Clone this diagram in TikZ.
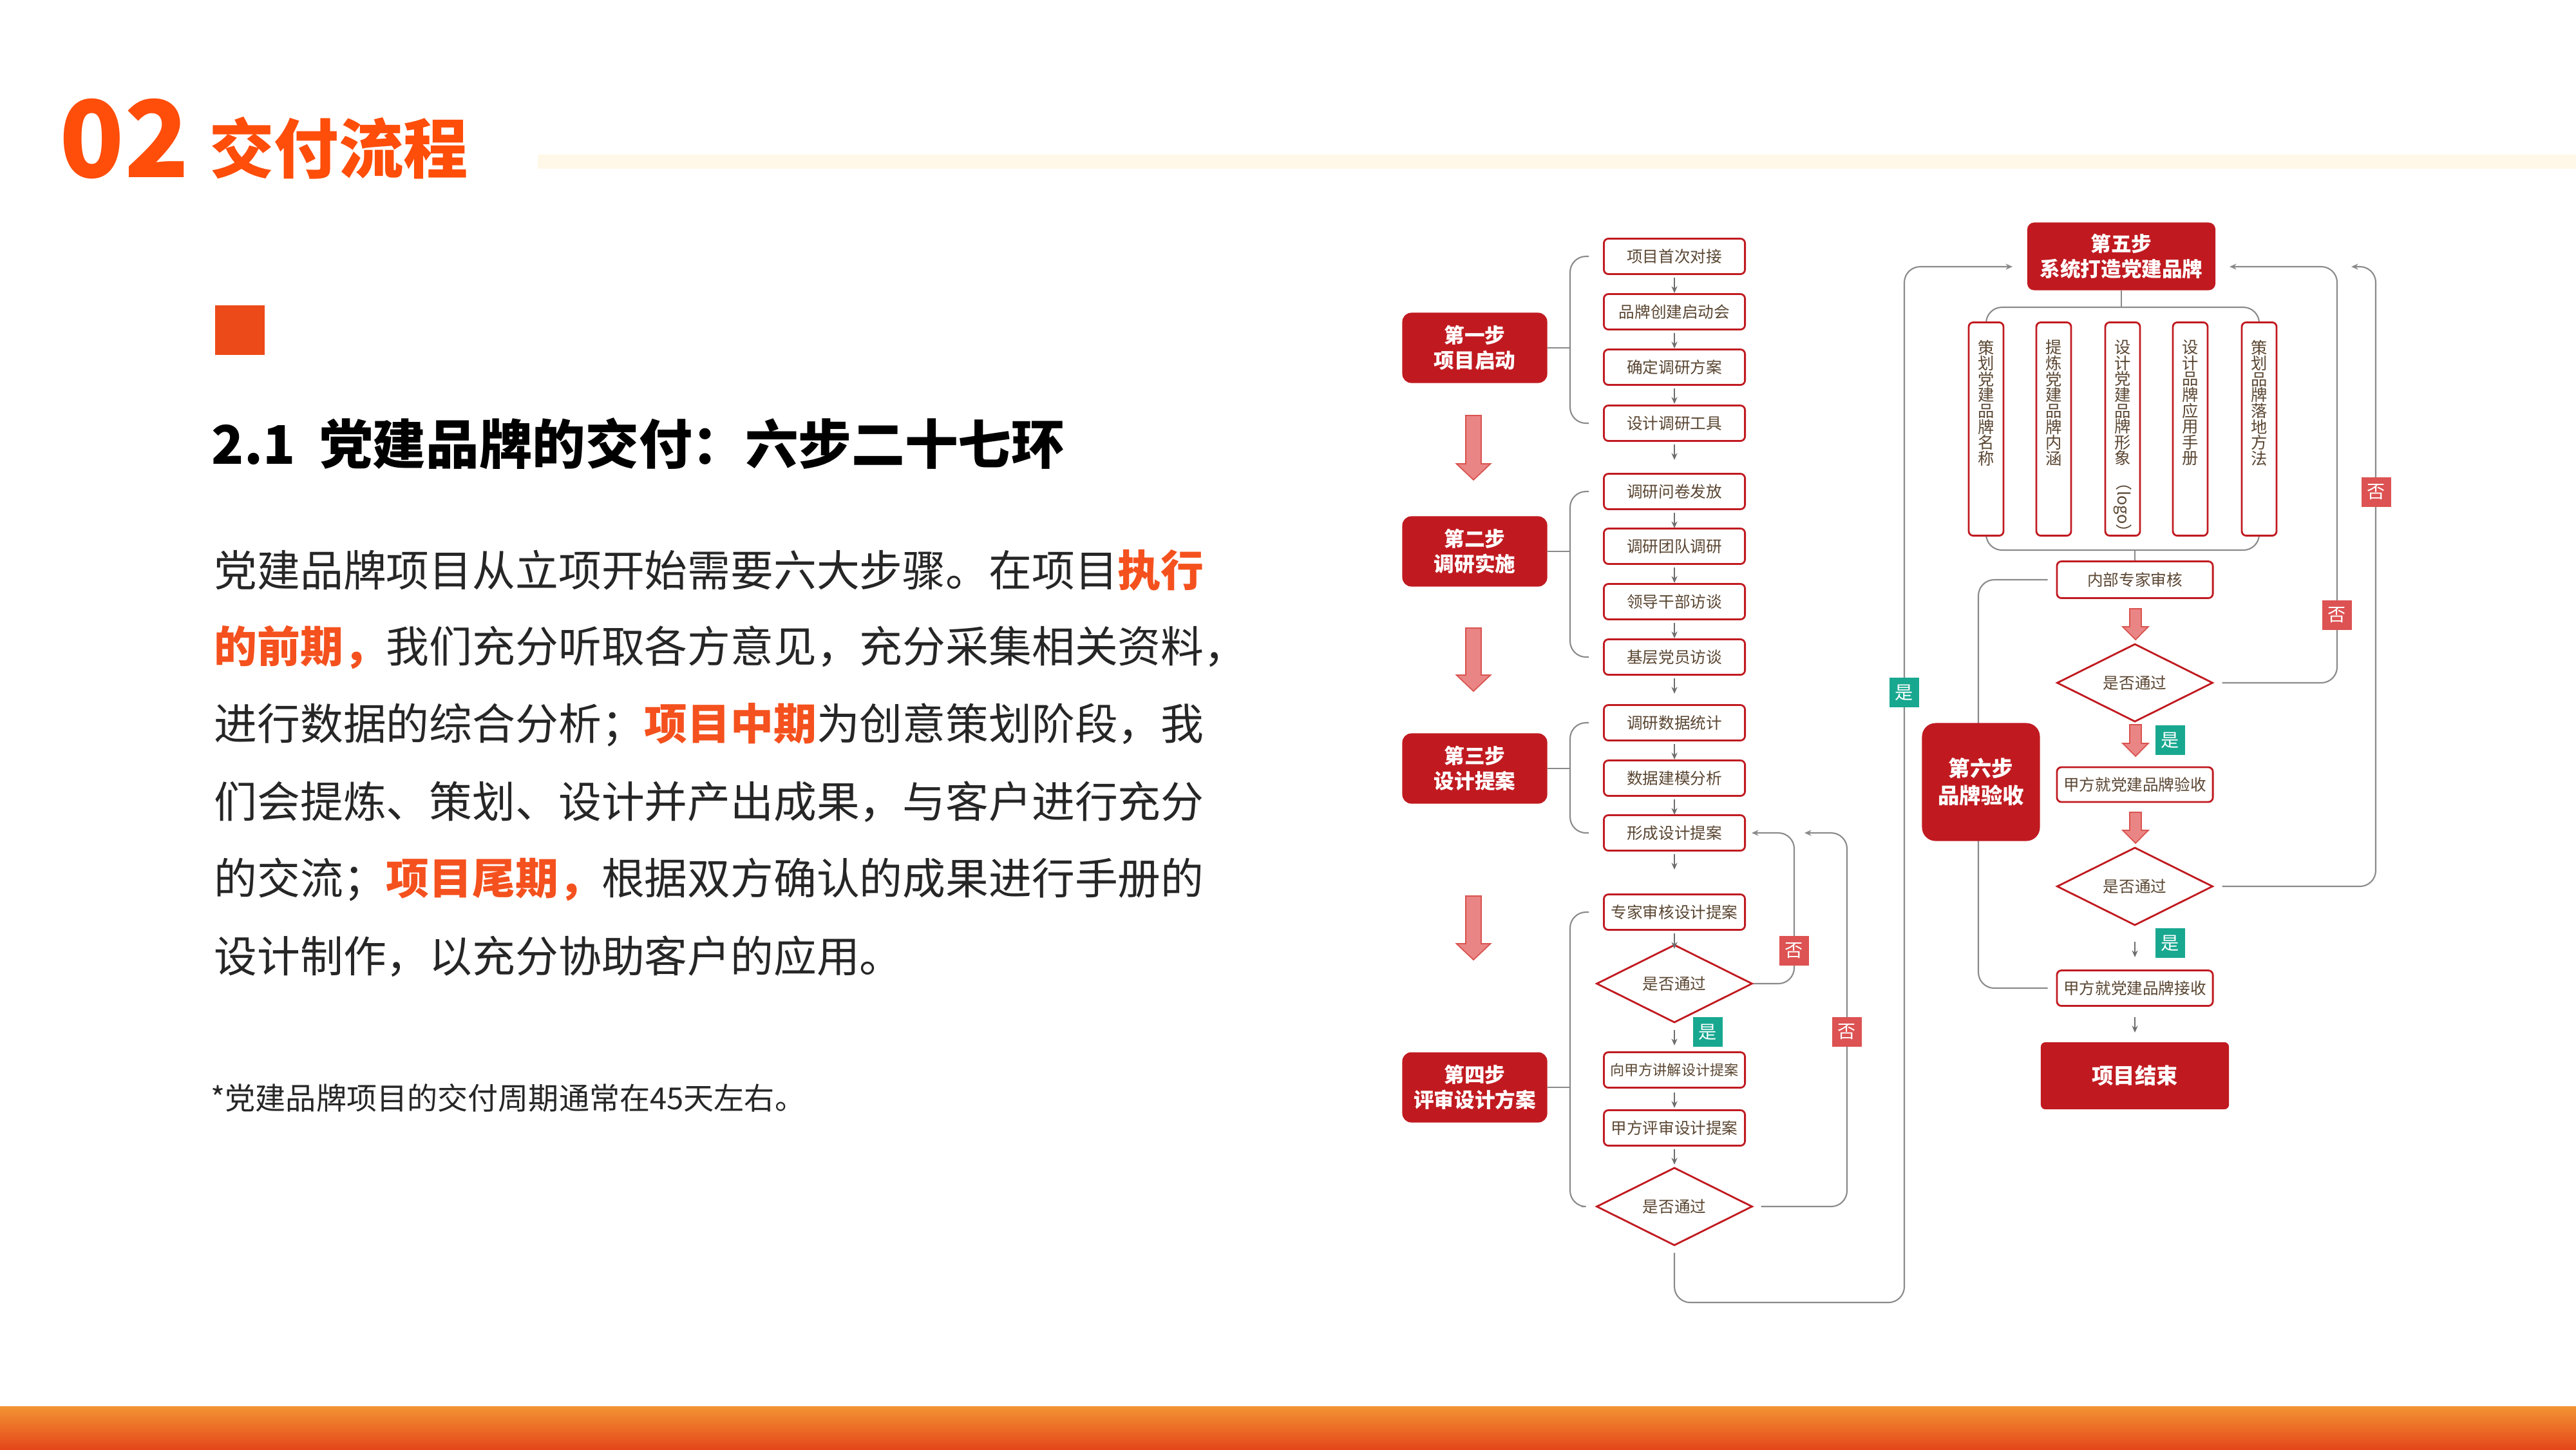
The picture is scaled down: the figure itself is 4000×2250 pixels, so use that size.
\documentclass[tikz,border=0pt]{standalone}
\usepackage{fontspec}
\setmainfont{Noto Sans CJK SC}
\usetikzlibrary{shapes.geometric,arrows.meta,backgrounds}
\definecolor{boxred}{HTML}{C01A20}
\definecolor{txtb}{HTML}{5A4632}
\definecolor{hl}{HTML}{F4511E}
\definecolor{ttl}{HTML}{FF4D0A}
\definecolor{lblred}{HTML}{DD5252}
\definecolor{teal}{HTML}{18A890}
\definecolor{fatf}{HTML}{EA8585}
\definecolor{fatd}{HTML}{D9534F}
\definecolor{gline}{HTML}{8A8A8A}
\definecolor{cream}{HTML}{FFF8E8}
\definecolor{sq}{HTML}{EC4A18}
\definecolor{bartop}{HTML}{F39433}
\definecolor{barbot}{HTML}{E4461A}
\newcommand\fatarr[5]{\filldraw[fill=fatf,draw=fatd,line width=0.5pt] ({#1-#4},#2) -- ({#1+#4},#2) -- ({#1+#4},{#3-#5}) -- ({#1+2.2*#4},{#3-#5}) -- (#1,#3) -- ({#1-2.2*#4},{#3-#5}) -- ({#1-#4},{#3-#5}) -- cycle;}
\tikzset{
 sbox/.style={draw=boxred,line width=0.8pt,rounded corners=2pt,fill=white,text=txtb,minimum width=2.19cm,minimum height=0.55cm,inner sep=0pt,font=\fontsize{7}{8}\selectfont},
 stepbox/.style={fill=boxred,rounded corners=4pt,text=white,minimum width=2.25cm,minimum height=1.09cm,align=center,font=\bfseries\fontsize{9}{11}\selectfont},
 dia/.style={diamond,draw=boxred,line width=0.8pt,fill=white,text=txtb,minimum width=2.42cm,minimum height=1.02cm,inner sep=0pt,font=\fontsize{7}{8}\selectfont},
 vbox/.style={draw=boxred,line width=0.8pt,rounded corners=2pt,fill=white,minimum width=0.54cm,minimum height=3.31cm,inner sep=0pt},
 vtext/.style={text=txtb,align=center,inner sep=0pt,font=\fontsize{7.2}{7.0}\selectfont},
 nolbl/.style={fill=lblred,text=white,minimum size=0.46cm,inner sep=0pt,font=\fontsize{8}{9}\selectfont},
 yeslbl/.style={fill=teal,text=white,minimum size=0.46cm,inner sep=0pt,font=\fontsize{8}{9}\selectfont},
 gl/.style={draw=gline,line width=0.6pt,rounded corners=7pt},
 garr/.style={gl,-{Stealth[length=3pt,width=2.6pt]}},
 sarr/.style={draw=gline!80!black,line width=0.5pt,-{Stealth[length=3pt,width=2.6pt]}},
 body/.style={anchor=west,inner sep=0pt,text=black!85,font=\fontsize{19}{20}\selectfont}
}
\begin{document}
\begin{tikzpicture}[x=0.01cm,y=-0.01cm]
\useasboundingbox (0,0) rectangle (4000,2250);
\fill[cream] (835,240) rectangle (4000,262);
\node[anchor=base west,inner sep=0pt,text=ttl,font=\bfseries\fontsize{47}{50}\selectfont] (t02) at (92,275) {02};
\node[anchor=base west,inner sep=0pt,text=ttl,font=\bfseries\fontsize{28.5}{32}\selectfont] (ttitle) at (325,268) {交付流程};
\fill[sq] (334,474) rectangle (411,551);
\node[anchor=west,inner sep=0pt,font=\bfseries\fontsize{23.5}{25}\selectfont] (head) at (328,689) {2.1\ \ 党建品牌的交付：六步二十七环};
\node[body] (l1) at (332,885) {党建品牌项目从立项开始需要六大步骤。在项目\textcolor{hl}{\bfseries 执行}};
\node[body] (l2) at (332,1005) {\textcolor{hl}{\bfseries 的前期，}我们充分听取各方意见，充分采集相关资料，};
\node[body] (l3) at (332,1125) {进行数据的综合分析；\textcolor{hl}{\bfseries 项目中期}为创意策划阶段，我};
\node[body] (l4) at (332,1245) {们会提炼、策划、设计并产出成果，与客户进行充分};
\node[body] (l5) at (332,1365) {的交流；\textcolor{hl}{\bfseries 项目尾期，}根据双方确认的成果进行手册的};
\node[body] (l6) at (332,1485) {设计制作，以充分协助客户的应用。};
\node[body,font=\fontsize{13.4}{14}\selectfont] (fn) at (327,1704) {*党建品牌项目的交付周期通常在45天左右。};
\shade[top color=bartop,bottom color=barbot] (0,2183) rectangle (4000,2250);

\node[stepbox] (s1) at (2290,540) {第一步\\项目启动};
\node[stepbox] (s2) at (2290,856) {第二步\\调研实施};
\node[stepbox] (s3) at (2290,1193) {第三步\\设计提案};
\node[stepbox] (s4) at (2290,1688) {第四步\\评审设计方案};
\fatarr{2288}{645}{745}{12}{25}
\fatarr{2288}{975}{1073}{12}{25}
\fatarr{2288}{1391}{1490}{12}{25}

\node[sbox] (b1) at (2600,398) {项目首次对接};
\node[sbox] (b2) at (2600,484) {品牌创建启动会};
\node[sbox] (b3) at (2600,570) {确定调研方案};
\node[sbox] (b4) at (2600,657) {设计调研工具};
\node[sbox] (b5) at (2600,763) {调研问卷发放};
\node[sbox] (b6) at (2600,848) {调研团队调研};
\node[sbox] (b7) at (2600,934) {领导干部访谈};
\node[sbox] (b8) at (2600,1020) {基层党员访谈};
\node[sbox] (b9) at (2600,1122) {调研数据统计};
\node[sbox] (b10) at (2600,1208) {数据建模分析};
\node[sbox] (b11) at (2600,1293) {形成设计提案};
\node[sbox] (b12) at (2600,1416) {专家审核设计提案};
\node[dia] (d1) at (2600,1527) {是否通过};
\node[sbox,font=\fontsize{6.3}{7}\selectfont] (b13) at (2600,1661) {向甲方讲解设计提案};
\node[sbox] (b14) at (2600,1751) {甲方评审设计提案};
\node[dia] (d2) at (2600,1873) {是否通过};
\foreach \n in {1,...,11,12,14} {\draw[sarr] ([yshift=-0.04cm]b\n.south) -- ++(0,24);}
\draw[sarr] ([yshift=-0.06cm]b13.south) -- ++(0,24);
\draw[sarr] ([yshift=-0.1cm]d1.south) -- ++(0,24);
\node[yeslbl] (y1) at (2652,1602) {是};

\node[stepbox,minimum width=2.92cm,minimum height=1.05cm,rounded corners=3pt] (s5) at (3294,398) {第五步\\系统打造党建品牌};
\node[vbox] (v1) at (3084,666) {};
\node[vbox] (v2) at (3189,666) {};
\node[vbox] (v3) at (3296,666) {};
\node[vbox] (v4) at (3401,666) {};
\node[vbox] (v5) at (3508,666) {};
\node[vtext,anchor=north] (vt1) at ([yshift=-0.28cm]v1.north) {策\\划\\党\\建\\品\\牌\\名\\称};
\node[vtext,anchor=north] (vt2) at ([yshift=-0.28cm]v2.north) {提\\炼\\党\\建\\品\\牌\\内\\涵};
\node[vtext,anchor=north] (vt3) at ([yshift=-0.28cm]v3.north) {设\\计\\党\\建\\品\\牌\\形\\象\\[3pt]\rotatebox[origin=c]{-90}{（logo）}};
\node[vtext,anchor=north] (vt4) at ([yshift=-0.28cm]v4.north) {设\\计\\品\\牌\\应\\用\\手\\册};
\node[vtext,anchor=north] (vt5) at ([yshift=-0.28cm]v5.north) {策\\划\\品\\牌\\落\\地\\方\\法};
\node[sbox,minimum width=2.42cm,minimum height=0.57cm] (r1) at (3315,900) {内部专家审核};
\node[dia,minimum height=1.02cm] (d3) at (3315,1060) {是否通过};
\node[sbox,minimum width=2.42cm,minimum height=0.54cm] (r2) at (3315,1218) {甲方就党建品牌验收};
\node[dia] (d4) at (3315,1376) {是否通过};
\node[sbox,minimum width=2.42cm,minimum height=0.55cm] (r3) at (3315,1534) {甲方就党建品牌接收};
\node[stepbox,minimum width=2.92cm,minimum height=1.04cm,rounded corners=2pt,font=\bfseries\fontsize{9.5}{11}\selectfont] (end) at (3315,1670) {项目结束};
\fatarr{3316}{945}{993}{9}{20}
\fatarr{3316}{1125}{1174}{9}{20}
\fatarr{3316}{1261}{1309}{9}{20}
\draw[sarr] ([yshift=-0.24cm]d4.south) -- ++(0,24);
\draw[sarr] ([yshift=-0.16cm]r3.south) -- ++(0,24);
\node[yeslbl] (y2) at (3370,1149) {是};
\node[yeslbl] (y3) at (3370,1464) {是};

\begin{scope}[on background layer]
\draw[gline,line width=0.6pt] (s1.east) -- (2438,540);
\draw[gl] ([xshift=-0.22cm]b1.west) -- (2438,398) -- (2438,657) -- ([xshift=-0.22cm]b4.west);
\draw[gline,line width=0.6pt] (s2.east) -- (2438,856);
\draw[gl] ([xshift=-0.22cm]b5.west) -- (2438,763) -- (2438,1020) -- ([xshift=-0.22cm]b8.west);
\draw[gline,line width=0.6pt] (s3.east) -- (2438,1193);
\draw[gl] ([xshift=-0.22cm]b9.west) -- (2438,1122) -- (2438,1293) -- ([xshift=-0.22cm]b11.west);
\draw[gline,line width=0.6pt] (s4.east) -- (2438,1688);
\draw[gl] ([xshift=-0.22cm]b12.west) -- (2438,1416) -- (2438,1873) -- ([xshift=-0.22cm]d2.west);
\draw[garr] (d1.east) -- (2786,1527) -- (2786,1293) -- ([xshift=0.09cm]b11.east);
\coordinate (fb2) at (2802,1293);
\draw[garr] ([xshift=0.12cm]d2.east) -- (2868,1873) -- (2868,1293) -- (fb2);
\coordinate (s5in) at (3125,414);
\draw[garr] ([yshift=-0.1cm]d2.south) -- (2600,2022) -- (2957,2022) -- (2957,414) -- (s5in);
\draw[gline,line width=0.6pt] (s5.south) -- (3294,477);
\draw[gl] (v1.north) -- (3084,477) -- (3508,477) -- (v5.north);
\draw[gl] (v1.south) -- (3084,854) -- (3508,854) -- (v5.south);
\draw[gline,line width=0.6pt] (3315,854) -- (r1.north);
\coordinate (s5r) at (3462,414);
\draw[garr] ([xshift=0.13cm]d3.east) -- (3629,1060) -- (3629,414) -- (s5r);
\coordinate (s5r2) at (3651,414);
\draw[garr] ([xshift=0.13cm]d4.east) -- (3689,1376) -- (3689,414) -- (s5r2);
\draw[gl] ([xshift=-0.13cm]r1.west) -- (3072,900) -- (3072,1534) -- ([xshift=-0.13cm]r3.west);
\end{scope}
\node[nolbl] (n1) at (2786,1476) {否};
\node[nolbl] (n2) at (2868,1602) {否};
\node[nolbl] (n3) at (3629,955) {否};
\node[nolbl] (n4) at (3690,764) {否};
\node[yeslbl] (y4) at (2957,1075) {是};
\node[stepbox,minimum width=1.83cm,minimum height=1.83cm,rounded corners=6pt,font=\bfseries\fontsize{9.5}{12}\selectfont] (s6) at (3076,1214) {第六步\\品牌验收};
\end{tikzpicture}
\end{document}
